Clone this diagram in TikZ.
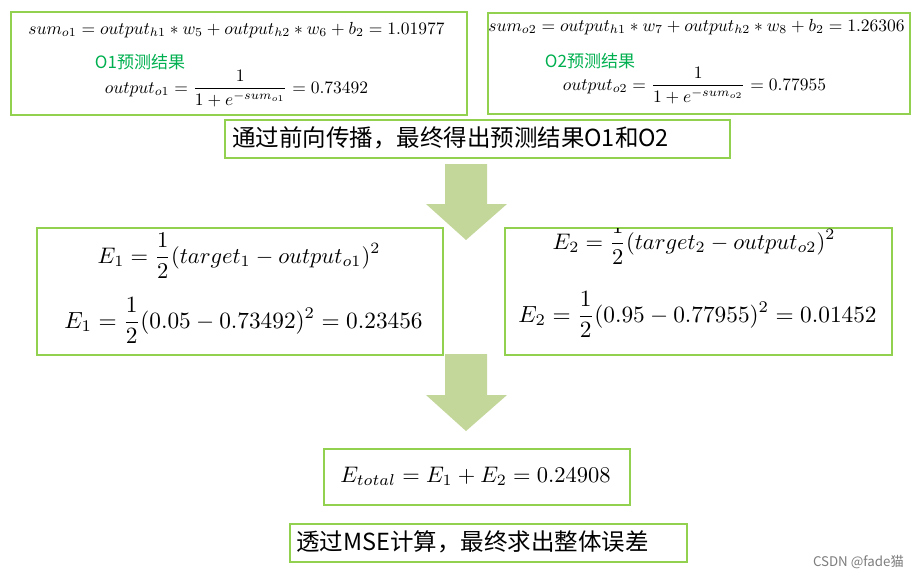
\documentclass[tikz,border=0pt]{standalone}
\usepackage{fontspec}
\newfontfamily\cjk{Noto Sans CJK SC}
\definecolor{boxgreen}{RGB}{146,208,80}
\definecolor{arrowgreen}{RGB}{196,215,155}
\definecolor{labelgreen}{RGB}{0,176,80}
\definecolor{markgray}{RGB}{125,125,125}
\newcommand{\eqT}[1]{\scalebox{1.75}{$#1$}}
\newcommand{\eqM}[1]{\scalebox{2.25}{$#1$}}
\newcommand{\eqL}[1]{\scalebox{2.33}{$#1$}}
\tikzset{
  gbox/.style={draw=boxgreen, line width=1.6pt, inner sep=0pt, anchor=north west},
  eqn/.style={inner sep=0pt, anchor=base},
  zh/.style={inner sep=0pt, font=\cjk\fontsize{23.5}{26}\selectfont},
  glabel/.style={inner sep=0pt, text=labelgreen, font=\cjk\fontsize{17}{19}\selectfont},
  bigarrow/.style={fill=arrowgreen},
  wmark/.style={inner sep=0pt, anchor=east, text=markgray, font=\cjk\fontsize{13.3}{15}\selectfont}
}
\begin{document}
\begin{tikzpicture}[x=1pt,y=-1pt]
\useasboundingbox (0,0) rectangle (917,576);
\fill[white] (0,0) rectangle (917,576);

% top boxes
\node[gbox, minimum width=456pt, minimum height=103pt] (b1) at (10,11) {};
\node[gbox, minimum width=422pt, minimum height=101pt] (b2) at (487,12) {};
\node[eqn] (s1) at (236.5,34) {\eqT{sum_{o1}=output_{h1}*w_5+output_{h2}*w_6+b_2=1.01977}};
\node[glabel] (l1) at (140,62.5) {O1预测结果};
\node[eqn] (o1) at (236.5,93) {\eqT{\displaystyle output_{o1}=\frac{1}{1+e^{-sum_{o1}}}=0.73492}};
\node[eqn] (s2) at (696.5,31) {\eqT{sum_{o2}=output_{h1}*w_7+output_{h2}*w_8+b_2=1.26306}};
\node[glabel] (l2) at (590,61.5) {O2预测结果};
\node[eqn] (o2) at (694.5,90) {\eqT{\displaystyle output_{o2}=\frac{1}{1+e^{-sum_{o2}}}=0.77955}};

% caption 1
\node[gbox, minimum width=505pt, minimum height=38pt] (c1) at (224,119) {};
\node[zh] (c1t) at (450.5,138) {通过前向传播，最终得出预测结果O1和O2};

% arrow 1
\fill[bigarrow] (445,164) -- (487,164) -- (487,204) -- (507,204) -- (466,240) -- (426,204) -- (445,204) -- cycle;

% middle boxes
\node[gbox, minimum width=406pt, minimum height=127pt] (b3) at (36,227) {};
\node[gbox, minimum width=387pt, minimum height=127pt] (b4) at (504,227) {};
\node[eqn] (e1a) at (239,263) {\eqM{\displaystyle E_1=\frac{1}{2}(target_1-output_{o1})^2}};
\node[eqn] (e1b) at (243.5,328) {\eqL{\displaystyle E_1=\frac{1}{2}(0.05-0.73492)^2=0.23456}};
\begin{scope}
\clip (504,228) rectangle (891,354);
\node[eqn] (e2a) at (694,249) {\eqM{\displaystyle E_2=\frac{1}{2}(target_2-output_{o2})^2}};
\end{scope}
\node[eqn] (e2b) at (697.5,322) {\eqL{\displaystyle E_2=\frac{1}{2}(0.95-0.77955)^2=0.01452}};

% arrow 2
\fill[bigarrow] (445,354) -- (487,354) -- (487,395) -- (507,395) -- (466,431) -- (426,395) -- (445,395) -- cycle;

% total
\node[gbox, minimum width=306pt, minimum height=56pt] (b5) at (323,448) {};
\node[eqn] (et) at (475.5,482) {\eqM{E_{total}=E_1+E_2=0.24908}};

% caption 2
\node[gbox, minimum width=397pt, minimum height=38pt] (c2) at (289,523) {};
\node[zh] (c2t) at (472.5,542) {透过MSE计算，最终求出整体误差};

% watermark
\node[wmark] (wm) at (904,562) {CSDN @fade猫};
\end{tikzpicture}
\end{document}
